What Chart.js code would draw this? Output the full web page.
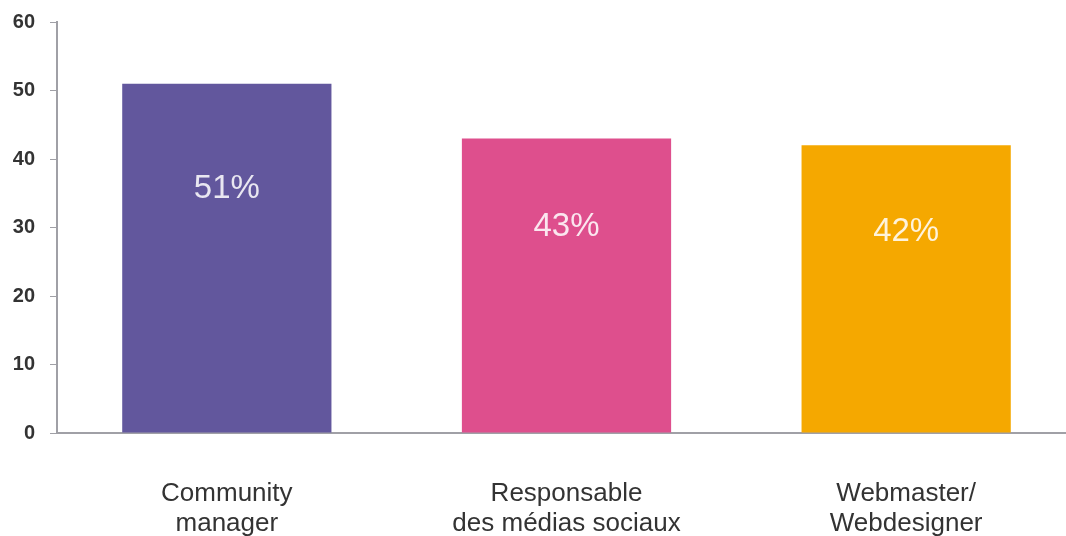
<!DOCTYPE html>
<html>
<head>
<meta charset="utf-8">
<script src="https://cdn.jsdelivr.net/npm/chart.js@4/dist/chart.umd.min.js"></script>
<style>
    html, body { margin: 0; padding: 0; background: #fff; overflow: hidden; }
    .wrap { width: 1076px; height: 536px; }
</style>
</head>
<body>
<div class="wrap"><canvas id="chart" width="1076" height="536"></canvas></div>
<script>
const categories = [['Community', 'manager'], ['Responsable', 'des médias sociaux'], ['Webmaster/', 'Webdesigner']];
const shares = [51, 43, 42];
const barColors = ['#62579d', '#de4f8d', '#f5a800'];
const yTicks = [0, 10, 20, 30, 40, 50, 60];

// percent labels written inside each bar
const insideLabels = {
    id: 'insideLabels',
    afterDatasetsDraw(chart) {
        const ctx = chart.ctx;
        const meta = chart.getDatasetMeta(0);
        const y = chart.scales.y;
        ctx.save();
        ctx.font = '33px "Liberation Sans", Arial, sans-serif';
        ctx.fillStyle = 'rgba(255,255,255,0.86)';
        ctx.textAlign = 'center';
        ctx.textBaseline = 'middle';
        meta.data.forEach((bar, i) => {
            ctx.fillText(shares[i] + '%', bar.x, y.getPixelForValue(shares[i] * 0.7));
        });
        ctx.restore();
    }
};

new Chart(document.getElementById('chart'), {
    type: 'bar',
    data: {
        labels: categories,
        datasets: [{
            data: shares,
            backgroundColor: barColors,
            borderWidth: 0,
            barPercentage: 0.616,
            categoryPercentage: 1
        }]
    },
    options: {
        responsive: false,
        animation: false,
        layout: { padding: { top: 22, left: 0, right: 0, bottom: 0 } },
        plugins: { legend: { display: false }, tooltip: { enabled: false } },
        scales: {
            x: {
                afterFit: scale => {
                    scale.height = 103;
                    scale.paddingLeft = 0;
                    scale.paddingRight = 0;
                },
                grid: { display: false, drawTicks: false },
                border: { display: true, color: '#a0a0a6', width: 2 },
                ticks: {
                    padding: 46,
                    color: '#333',
                    font: { family: '"Liberation Sans", Arial, sans-serif', size: 26, lineHeight: 1.15 }
                }
            },
            y: {
                min: 0,
                max: 60,
                afterFit: scale => {
                    scale.width = 57;
                    scale.paddingTop = 0;
                    scale.paddingBottom = 0;
                },
                afterBuildTicks: axis => { axis.ticks = yTicks.map(v => ({ value: v })); },
                grid: { drawOnChartArea: false, drawTicks: true, tickLength: 7, color: '#a0a0a6', lineWidth: 1 },
                border: { display: true, color: '#a0a0a6', width: 2 },
                ticks: {
                    padding: 15,
                    color: '#333',
                    font: { family: '"Liberation Sans", Arial, sans-serif', size: 20, weight: 'bold' }
                }
            }
        }
    },
    plugins: [insideLabels]
});
</script>
</body>
</html>
